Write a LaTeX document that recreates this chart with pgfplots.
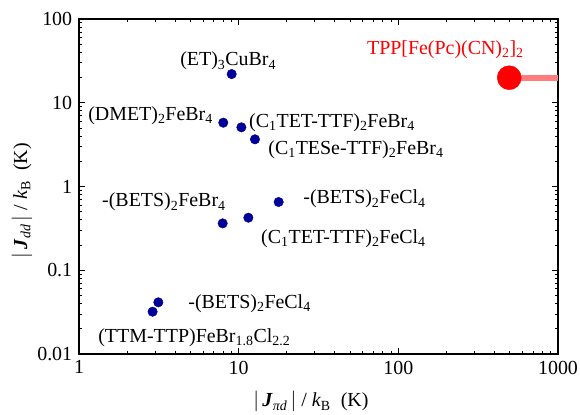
\documentclass[border=0pt]{standalone}
\usepackage{pgfplots}
\pgfplotsset{compat=1.18}
\usepackage{fontspec}
\setmainfont{Liberation Serif}
\definecolor{dblue}{RGB}{0,0,153}
\definecolor{lred}{RGB}{255,125,125}
\begin{document}
\fontsize{20}{23}\selectfont
\begin{tikzpicture}
\useasboundingbox (0,0) rectangle (580bp,415bp);
\begin{axis}[
 at={(79bp,61bp)}, anchor=south west,
 scale only axis, width=479bp, height=335bp,
 xmode=log, ymode=log, xmin=1, xmax=1000, ymin=0.01, ymax=100,
 xtick={1,10,100,1000}, xticklabels={1,10,100,1000},
 ytick={0.01,0.1,1,10,100}, yticklabels={0.01,0.1,1,10,100},
 minor xtick={2,3,4,5,6,7,8,9,20,30,40,50,60,70,80,90,200,300,400,500,600,700,800,900},
 minor ytick={0.02,0.03,0.04,0.05,0.06,0.07,0.08,0.09,0.2,0.3,0.4,0.5,0.6,0.7,0.8,0.9,2,3,4,5,6,7,8,9,20,30,40,50,60,70,80,90},
 tick align=inside, major tick length=6bp, minor tick length=3.5bp,
 axis line style={line width=1.2bp},
 every tick/.style={line width=0.9bp,black},
 clip=false,
 ticklabel style={font=\fontsize{20}{23}\selectfont},
 /pgf/number format/assume math mode=true,
]
\addplot[only marks, mark=*, mark size=4.75bp, draw=dblue, fill=dblue, mark options={draw=dblue, fill=dblue}] coordinates {
(9.04,22.0) (8.01,5.78) (10.4,5.09) (12.65,3.66) (17.8,0.653) (7.94,0.363) (11.5,0.424) (3.14,0.0414) (2.89,0.032)};
\addplot[lred, line width=6bp] coordinates {(495,19.9) (1000,19.9)};
\addplot[only marks, mark=*, mark size=12bp, draw=red, fill=red, mark options={draw=red, fill=red}] coordinates {(495,19.9)};

\node[anchor=base west, inner sep=0pt] at (rel axis cs:0.211,0.860) {(ET)\textsubscript{3}CuBr\textsubscript{4}};
\node[anchor=base west, inner sep=0pt] at (rel axis cs:0.019,0.696) {(DMET)\textsubscript{2}FeBr\textsubscript{4}};
\node[anchor=base west, inner sep=0pt] at (rel axis cs:0.355,0.675) {(C\textsubscript{1}TET-TTF)\textsubscript{2}FeBr\textsubscript{4}};
\node[anchor=base west, inner sep=0pt] at (rel axis cs:0.395,0.597) {(C\textsubscript{1}TESe-TTF)\textsubscript{2}FeBr\textsubscript{4}};
\node[anchor=base west, inner sep=0pt] at (rel axis cs:0.048,0.439) {-(BETS)\textsubscript{2}FeBr\textsubscript{4}};
\node[anchor=base west, inner sep=0pt] at (rel axis cs:0.468,0.448) {-(BETS)\textsubscript{2}FeCl\textsubscript{4}};
\node[anchor=base west, inner sep=0pt] at (rel axis cs:0.380,0.331) {(C\textsubscript{1}TET-TTF)\textsubscript{2}FeCl\textsubscript{4}};
\node[anchor=base west, inner sep=0pt] at (rel axis cs:0.228,0.137) {-(BETS)\textsubscript{2}FeCl\textsubscript{4}};
\node[anchor=base west, inner sep=0pt] at (rel axis cs:0.040,0.034) {(TTM-TTP)FeBr\textsubscript{1.8}Cl\textsubscript{2.2}};
\node[anchor=base west, inner sep=0pt, text=red] at (rel axis cs:0.601,0.893) {TPP[Fe(Pc)(CN)\textsubscript{2}]\textsubscript{2}};

\node[anchor=base, inner sep=0pt] at (rel axis cs:0.484,-0.158) {$|$\,\textbf{\textit{J}}\textsubscript{\textit{πd}}\,$|$ / \textit{k}\textsubscript{B}~ (K)};
\node[anchor=center, inner sep=0pt, rotate=90] at (rel axis cs:-0.119,0.457) {$|$\,\textbf{\textit{J}}\textsubscript{\textit{dd}}\,$|$ / \textit{k}\textsubscript{B}~ (K)};
\end{axis}
\end{tikzpicture}
\end{document}
